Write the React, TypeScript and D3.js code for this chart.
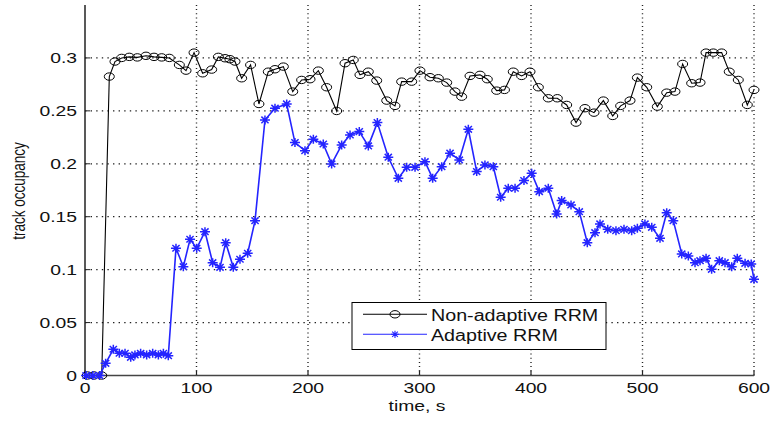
import React from 'react';
import * as d3 from 'd3';

const xTicks = [0, 100, 200, 300, 400, 500, 600];
const yTicks = [0, 0.05, 0.1, 0.15, 0.2, 0.25, 0.3];
const yTickLabels = ['0', '0.05', '0.1', '0.15', '0.2', '0.25', '0.3'];

const nonAdaptiveTime = [2, 8, 15, 21.8, 26.9, 32.9, 39.7, 46.9, 54.7, 61.9, 68.8, 75.6, 84.6, 90.6, 97.8, 105.5, 113.6, 119.6, 125.6, 130, 134.5, 140.5, 148.5, 156, 164.4, 170.4, 177.9, 186.3, 194.3, 201.8, 209.3, 216.7, 225.7, 233.2, 240.6, 246.6, 254.1, 261.6, 270.6, 278, 284, 293, 300.4, 309.4, 316.9, 324.4, 331.8, 337.8, 345.3, 354.3, 360.8, 369.2, 376.2, 384.1, 391.6, 399.1, 406.6, 415.5, 423.6, 432, 440.4, 448.4, 456.5, 464.9, 473.3, 480.4, 488.8, 495.4, 503.8, 513.3, 521.7, 529.1, 536, 544.1, 551.6, 557, 563.5, 571, 577.8, 585.9, 594, 600];
const nonAdaptiveValue = [0, 0, 0, 0.2824, 0.2966, 0.3, 0.301, 0.3005, 0.302, 0.301, 0.3005, 0.3, 0.2934, 0.288, 0.305, 0.2855, 0.289, 0.301, 0.2997, 0.2988, 0.2966, 0.2808, 0.2934, 0.2565, 0.287, 0.2893, 0.2918, 0.2682, 0.2792, 0.2799, 0.288, 0.2723, 0.2499, 0.295, 0.2981, 0.284, 0.287, 0.2786, 0.2597, 0.2547, 0.2776, 0.2776, 0.288, 0.2818, 0.2808, 0.2767, 0.2682, 0.2634, 0.283, 0.284, 0.2799, 0.2691, 0.2698, 0.287, 0.283, 0.287, 0.2723, 0.2619, 0.2619, 0.2556, 0.2389, 0.2525, 0.2483, 0.2597, 0.2452, 0.2547, 0.2597, 0.2814, 0.2723, 0.254, 0.2672, 0.2682, 0.2943, 0.2761, 0.2767, 0.305, 0.305, 0.305, 0.287, 0.2792, 0.2556, 0.2698];

const adaptiveTime = [1, 7, 13, 18.5, 25.4, 30.8, 35.9, 41, 44.8, 49.9, 55.3, 60.7, 65.8, 70.3, 74.7, 81.6, 88.2, 94.2, 100.2, 107.6, 114.5, 121.1, 126.2, 133, 139, 145.9, 152.5, 161.4, 170.4, 180.9, 188.3, 197.3, 204.8, 213.7, 221.2, 230.2, 237.7, 246, 254.1, 262.2, 272, 281, 288.5, 296, 304.9, 311.8, 319.9, 327.4, 335.7, 343.8, 351.3, 358.7, 366.2, 372.8, 379.6, 385.7, 393.7, 400.6, 407.4, 415.5, 423, 427.5, 435.9, 443.3, 450.5, 457.4, 461.9, 468.8, 476.2, 483.4, 490.3, 495.4, 502.2, 508.3, 515.7, 521.7, 527.6, 535.2, 541.1, 547.1, 551.6, 557, 562, 568.9, 574, 580, 585, 592, 597.5, 600];
const adaptiveValue = [0, 0, 0, 0.0115, 0.0248, 0.021, 0.021, 0.0172, 0.0194, 0.021, 0.0194, 0.021, 0.0194, 0.021, 0.0187, 0.1202, 0.1028, 0.1287, 0.1202, 0.1359, 0.1066, 0.1022, 0.1255, 0.1022, 0.1098, 0.1155, 0.1463, 0.2414, 0.2525, 0.2565, 0.22, 0.2124, 0.2232, 0.2187, 0.1999, 0.2178, 0.2272, 0.2304, 0.2169, 0.2389, 0.2062, 0.1863, 0.1967, 0.1967, 0.202, 0.1863, 0.1973, 0.21, 0.2036, 0.2326, 0.1926, 0.1989, 0.1973, 0.1684, 0.1769, 0.1769, 0.1841, 0.191, 0.1737, 0.1769, 0.1526, 0.1652, 0.1611, 0.1548, 0.1255, 0.1349, 0.1432, 0.1381, 0.1368, 0.1381, 0.1368, 0.1391, 0.1432, 0.14, 0.1296, 0.1538, 0.1463, 0.1148, 0.1129, 0.1066, 0.1085, 0.1107, 0.1003, 0.1085, 0.1066, 0.1028, 0.1107, 0.106, 0.1054, 0.0909];

const legendLabels = ['Non-adaptive RRM', 'Adaptive RRM'];

const FONT = '"Liberation Sans", Arial, Helvetica, sans-serif';
const SX = 1.38;
const BLUE = '#2424ff';

function STxt({ x, y, anchor, size, sx, rotate, children }: any) {
  const tr = `translate(${x},${y}) scale(${sx ?? SX},1)` + (rotate ? ` rotate(${rotate})` : '');
  return (
    <text transform={tr} textAnchor={anchor || 'start'} fontSize={size || 14} fontFamily={FONT} fill="#111">
      {children}
    </text>
  );
}

const asterisk = 'M-5,0H5M0,-4.5V4.5M-3.6,-3.3L3.6,3.3M-3.6,3.3L3.6,-3.3';

export default function App() {
  const x = d3.scaleLinear().domain([0, 600]).range([85, 754]);
  const y = d3.scaleLinear().domain([0, 0.35]).range([375.5, 5]);

  const naData = nonAdaptiveTime.map((t, i) => [t, nonAdaptiveValue[i]] as [number, number]);
  const aData = adaptiveTime.map((t, i) => [t, adaptiveValue[i]] as [number, number]);
  const line = d3.line<[number, number]>().x(d => x(d[0])).y(d => y(d[1]));

  const x0 = x(0), x1 = x(600), yb = y(0), yt = y(0.35);

  return (
    <svg width={770} height={421} style={{ position: 'absolute', left: 0, top: 0, background: '#fff' }}>
      <rect x={0} y={0} width={770} height={421} fill="#fff" />
      {/* grid */}
      {yTicks.filter(v => v > 0).map(v => (
        <line key={'gy' + v} x1={x0} x2={x1} y1={y(v)} y2={y(v)} stroke="#222" strokeWidth={1.3} strokeDasharray="1.4 4.2" />
      ))}
      {xTicks.filter(v => v > 0).map(v => (
        <line key={'gx' + v} x1={x(v)} x2={x(v)} y1={yb} y2={yt} stroke="#222" strokeWidth={1.4} strokeDasharray="1 3.2" />
      ))}
      {/* ticks */}
      {xTicks.map(v => (
        <line key={'tx' + v} x1={x(v)} x2={x(v)} y1={yb} y2={yb - 5} stroke="#222" strokeWidth={1.2} />
      ))}
      {yTicks.map(v => (
        <line key={'ty' + v} x1={x0} x2={x0 + 5} y1={y(v)} y2={y(v)} stroke="#222" strokeWidth={1} />
      ))}
      {/* axes */}
      <line x1={x0} x2={x1} y1={yb} y2={yb} stroke="#444" strokeWidth={1.3} />
      <line x1={x0} x2={x0} y1={yb} y2={yt} stroke="#222" strokeWidth={1.5} />
      {/* series */}
      <path d={line(naData) || ''} fill="none" stroke="#000" strokeWidth={1.1} />
      {naData.map((d, i) => (
        <ellipse key={'c' + i} cx={x(d[0])} cy={y(d[1])} rx={5} ry={3.7} fill="none" stroke="#000" strokeWidth={1} />
      ))}
      <path d={line(aData) || ''} fill="none" stroke={BLUE} strokeWidth={1.6} />
      {aData.map((d, i) => (
        <path key={'a' + i} d={asterisk} transform={`translate(${x(d[0])},${y(d[1])})`} fill="none" stroke={BLUE} strokeWidth={1.5} />
      ))}
      {/* tick labels */}
      {yTicks.map((v, i) => (
        <STxt key={'ly' + v} x={77} y={y(v) + 5} anchor="end">{yTickLabels[i]}</STxt>
      ))}
      {xTicks.map(v => (
        <STxt key={'lx' + v} x={x(v)} y={393} anchor="middle">{String(v)}</STxt>
      ))}
      <STxt x={417} y={410.5} anchor="middle">time, s</STxt>
      <STxt x={25} y={191} anchor="middle" rotate={-90} size={13.5}>track occupancy</STxt>
      {/* legend */}
      <rect x={352} y={302.5} width={254} height={47} fill="#fff" stroke="#000" strokeWidth={1} />
      <line x1={363} x2={427} y1={314.3} y2={314.3} stroke="#000" strokeWidth={1.1} />
      <ellipse cx={395} cy={314.3} rx={5} ry={3.7} fill="none" stroke="#000" strokeWidth={1} />
      <line x1={363} x2={427} y1={334.3} y2={334.3} stroke={BLUE} strokeWidth={1.1} />
      <path d={asterisk} transform="translate(395,334.3) scale(0.8)" fill="none" stroke={BLUE} strokeWidth={1.4} />
      <STxt x={431} y={320.5} size={16} sx={1.23}>{legendLabels[0]}</STxt>
      <STxt x={431} y={340.5} size={16} sx={1.23}>{legendLabels[1]}</STxt>
    </svg>
  );
}
